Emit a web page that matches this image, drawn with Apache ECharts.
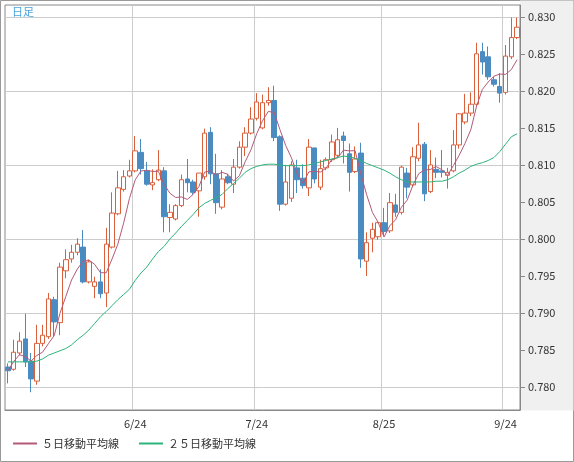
<!DOCTYPE html>
<html><head><meta charset="utf-8">
<script src="https://cdn.jsdelivr.net/npm/echarts@6/dist/echarts.min.js"></script>
<style>html,body{margin:0;padding:0;background:#fff}#c{width:574px;height:462px}</style>
</head><body><div id="c"></div>
<script>
// [open, close, low, high]
const ohlc = [
[0.7827,0.7822,0.7805,0.7832],[0.7824,0.7847,0.7822,0.7864],[0.7846,0.7862,0.7843,0.7874],[0.7865,0.7834,0.7827,0.7899],
[0.7835,0.7811,0.7793,0.7846],[0.7808,0.7859,0.7803,0.7884],[0.7859,0.7870,0.7855,0.7884],[0.7868,0.7919,0.7865,0.7927],
[0.7918,0.7888,0.7868,0.7922],[0.7887,0.7962,0.7870,0.7968],[0.7957,0.7972,0.7947,0.7986],[0.7973,0.7982,0.7968,0.7992],
[0.7982,0.7993,0.7978,0.8001],[0.7989,0.7942,0.7940,0.8012],[0.7942,0.7969,0.7940,0.7972],[0.7936,0.7942,0.7920,0.7949],
[0.7942,0.7926,0.7920,0.7959],[0.7927,0.7993,0.7908,0.8015],[0.7989,0.8035,0.7987,0.8063],[0.8034,0.8069,0.8032,0.8092],
[0.8067,0.8084,0.8064,0.8093],[0.8085,0.8092,0.8083,0.8107],[0.8092,0.8119,0.8090,0.8139],[0.8117,0.8095,0.8087,0.8135],
[0.8092,0.8074,0.8072,0.8104],[0.8073,0.8076,0.8066,0.8094],[0.8080,0.8093,0.8078,0.8120],[0.8092,0.8030,0.8009,0.8097],
[0.8029,0.8036,0.8009,0.8047],[0.8027,0.8045,0.8025,0.8047],[0.8045,0.8080,0.8043,0.8087],[0.8081,0.8076,0.8063,0.8108],
[0.8077,0.8063,0.8060,0.8080],[0.8065,0.8089,0.8030,0.8089],[0.8084,0.8143,0.8080,0.8149],[0.8144,0.8088,0.8074,0.8151],
[0.8088,0.8049,0.8034,0.8115],[0.8043,0.8081,0.8040,0.8093],[0.8084,0.8076,0.8074,0.8088],[0.8074,0.8097,0.8062,0.8108],
[0.8097,0.8124,0.8095,0.8132],[0.8124,0.8143,0.8112,0.8151],[0.8143,0.8162,0.8141,0.8178],[0.8163,0.8185,0.8160,0.8197],
[0.8150,0.8184,0.8148,0.8195],[0.8184,0.8187,0.8180,0.8205],[0.8187,0.8137,0.8132,0.8207],[0.8138,0.8047,0.8038,0.8140],
[0.8047,0.8077,0.8045,0.8100],[0.8055,0.8100,0.8050,0.8105],[0.8096,0.8080,0.8062,0.8107],[0.8082,0.8072,0.8068,0.8101],
[0.8069,0.8124,0.8058,0.8135],[0.8123,0.8081,0.8075,0.8123],[0.8070,0.8095,0.8066,0.8107],[0.8096,0.8107,0.8093,0.8110],
[0.8107,0.8131,0.8104,0.8141],[0.8113,0.8134,0.8110,0.8150],[0.8139,0.8133,0.8102,0.8145],[0.8115,0.8090,0.8064,0.8129],
[0.8091,0.8108,0.8089,0.8125],[0.8116,0.7973,0.7961,0.8130],[0.7970,0.7995,0.7950,0.8009],[0.8001,0.8013,0.7982,0.8022],
[0.8003,0.8022,0.7999,0.8024],[0.8022,0.8010,0.8005,0.8042],[0.8011,0.8049,0.8008,0.8062],[0.8046,0.8036,0.8030,0.8061],
[0.8036,0.8097,0.8033,0.8099],[0.8089,0.8070,0.8055,0.8096],[0.8073,0.8111,0.8070,0.8124],[0.8109,0.8127,0.8105,0.8157],
[0.8128,0.8061,0.8051,0.8131],[0.8064,0.8100,0.8062,0.8120],[0.8094,0.8090,0.8082,0.8110],[0.8092,0.8090,0.8083,0.8120],
[0.8086,0.8090,0.8068,0.8096],[0.8092,0.8127,0.8090,0.8147],[0.8127,0.8169,0.8122,0.8170],[0.8158,0.8170,0.8155,0.8196],
[0.8170,0.8182,0.8166,0.8198],[0.8182,0.8250,0.8180,0.8265],[0.8253,0.8239,0.8222,0.8265],[0.8246,0.8219,0.8215,0.8260],
[0.8215,0.8209,0.8206,0.8219],[0.8206,0.8197,0.8184,0.8224],[0.8198,0.8247,0.8195,0.8262],[0.8246,0.8272,0.8243,0.8299],
[0.8272,0.8286,0.8270,0.8299]
];
const ma25 = [
0.7834,0.7834,0.7834,0.7834,0.7834,0.7835,0.7838,0.7843,0.7846,0.7849,0.7852,0.7857,0.7864,0.7870,0.7877,0.7886,0.7895,0.7902,
0.7910,0.7918,0.7925,0.7932,0.7944,0.7954,0.7962,0.7973,0.7983,0.7990,0.8000,0.8008,0.8017,0.8025,0.8033,0.8042,0.8048,0.8052,
0.8056,0.8060,0.8068,0.8075,0.8082,0.8090,0.8095,0.8098,0.8100,0.8101,0.8101,0.8100,0.8099,0.8099,0.8099,0.8099,0.8100,0.8102,
0.8104,0.8106,0.8108,0.8110,0.8112,0.8111,0.8109,0.8106,0.8102,0.8099,0.8096,0.8093,0.8089,0.8084,0.8080,0.8077,0.8077,0.8077,
0.8077,0.8077,0.8078,0.8078,0.8080,0.8084,0.8089,0.8093,0.8098,0.8101,0.8103,0.8106,0.8110,0.8118,0.8128,0.8138,0.8142
];
const tickLabels = {22:'6/24',43:'7/24',65:'8/25',86:'9/24'};
const yTicks = [0.780,0.785,0.790,0.795,0.800,0.805,0.810,0.815,0.820,0.825,0.830];
const cats = ohlc.map((d,i)=>String(i));
const ma5 = ohlc.map((d,i)=>{const s=ohlc.slice(Math.max(0,i-4),i+1);return +(s.reduce((a,b)=>a+b[1],0)/s.length).toFixed(5);});
const ch = echarts.init(document.getElementById('c'));
const F = '"Noto Sans CJK JP", sans-serif';
ch.setOption({
  animation:false, backgroundColor:'#f0f0f0',
  graphic:[
    {type:'rect',shape:{x:0.5,y:0.5,width:573,height:461},style:{fill:'#fff',stroke:'#999'},z:-10},
    {type:'rect',shape:{x:520,y:0.5,width:53.5,height:410},style:{fill:'#f0f0f0',stroke:null},z:-9},
    {type:'text',left:12,top:6,style:{text:'日足',fill:'#4aa3df',font:'11px '+F}}
  ],
  legend:{left:8,bottom:8,itemWidth:24,itemHeight:2,icon:'rect',itemGap:20,
    textStyle:{fontFamily:F,fontSize:11,color:'#333'},data:['５日移動平均線','２５日移動平均線']},
  grid:{left:5,right:54,top:5,bottom:52,show:true,backgroundColor:'#fff',borderColor:'#888',borderWidth:1},
  xAxis:{type:'category',data:cats,boundaryGap:true,
    axisLine:{lineStyle:{color:'#888'}},axisTick:{show:false},
    axisLabel:{interval:(i)=>tickLabels[i]!==undefined,formatter:(v,i)=>tickLabels[i]||'',color:'#333',fontSize:11,fontFamily:F},
    splitLine:{show:true,interval:(i)=>tickLabels[i]!==undefined,lineStyle:{color:'#ccc'}}},
  yAxis:{type:'value',position:'right',min:0.7769,max:0.8316,scale:true,
    axisLine:{show:true,lineStyle:{color:'#888'}},
    axisTick:{show:true,customValues:yTicks,lineStyle:{color:'#888'}},
    axisLabel:{customValues:yTicks,formatter:v=>v.toFixed(3),color:'#333',fontSize:11,fontFamily:F},
    splitLine:{show:false}},
  series:[
    {type:'candlestick',data:ohlc,barWidth:5,
      itemStyle:{color:'#fff',color0:'#4a8bc2',borderColor:'#d9603b',borderColor0:'#4a8bc2',borderWidth:1},
      markLine:{silent:true,symbol:'none',label:{show:false},lineStyle:{color:'#ccc',type:'solid',width:1},
        data:yTicks.map(v=>({yAxis:v})),z:0}},
    {type:'line',name:'５日移動平均線',data:ma5,showSymbol:false,lineStyle:{color:'#b45a78',width:1},itemStyle:{color:'#b45a78'}},
    {type:'line',name:'２５日移動平均線',data:ma25,showSymbol:false,lineStyle:{color:'#2db37a',width:1},itemStyle:{color:'#2db37a'}}
  ]
});
</script></body></html>
